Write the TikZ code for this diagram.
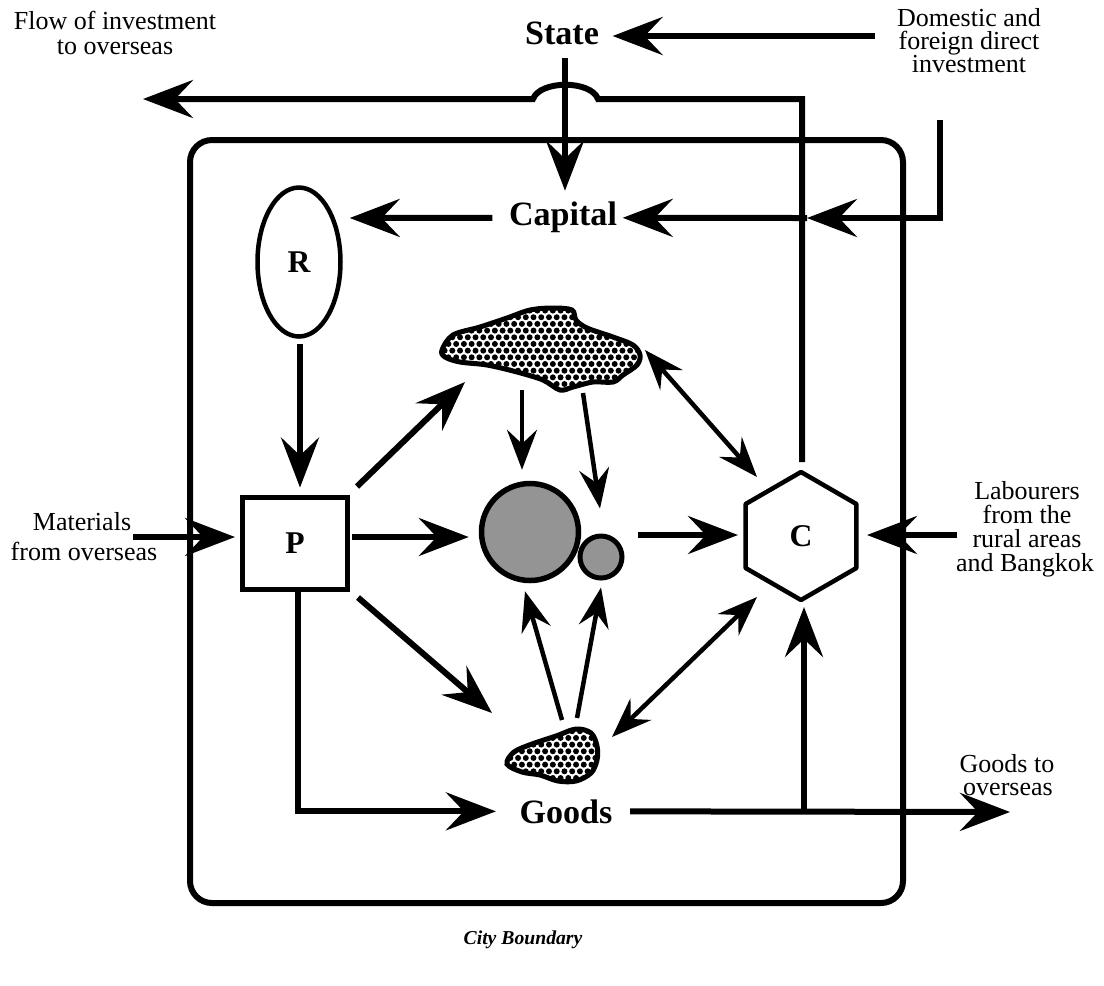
\documentclass[tikz,border=0pt]{standalone}
\usepackage{fontspec}
\setmainfont{Liberation Serif}
\usetikzlibrary{arrows.meta,shapes.geometric,patterns.meta,calc}

% dense black stipple used for the two irregular patches
\tikzdeclarepattern{
  name=stipple,
  type=uncolored,
  bounding box={(-0.9pt,-0.9pt) and (2pt,2.8pt)},
  tile size={(2.2pt,3.8pt)},
  code={
    \fill (0pt,0pt) circle (0.85pt);
    \fill (1.1pt,1.9pt) circle (0.85pt);
  }
}

\begin{document}
\begin{tikzpicture}[x=0.1mm,y=-0.1mm,
  bigarr/.style={line width=0.6mm,-{Stealth[length=5mm,width=3.8mm,inset=1.8mm]}},
  thinarr/.style={line width=0.45mm,-{Stealth[length=4mm,width=3mm,inset=1.4mm]}},
  twoway/.style={line width=0.45mm,{Stealth[length=4mm,width=3mm,inset=1.4mm]}-{Stealth[length=4mm,width=3mm,inset=1.4mm]}},
  lbl/.style={font=\fontsize{7.4}{8}\selectfont,anchor=base,inner sep=0pt},
  head/.style={font=\fontsize{9.7}{11}\selectfont\bfseries,anchor=base,inner sep=0pt},
  letter/.style={font=\fontsize{9}{10}\selectfont\bfseries},
  citylbl/.style={font=\fontsize{5.6}{7}\selectfont\bfseries\itshape,anchor=base,inner sep=0pt},
  patch/.style={line width=0.5mm,pattern=stipple,pattern color=black},
  disc/.style={circle,draw,fill=black!42,inner sep=0pt}
]
\useasboundingbox (0,0) rectangle (1104,985);

% city boundary
\draw[line width=0.6mm,rounded corners=2.2mm] (190,140) rectangle (903,903);
\node[citylbl] (city) at (523,944) {City Boundary};

% outside labels
\node[lbl] (flowA) at (115,29) {Flow of investment};
\node[lbl] (flowB) at (115,54) {to overseas};
\node[lbl] (domA) at (969,26) {Domestic and};
\node[lbl] (domB) at (969,49) {foreign direct};
\node[lbl] (domC) at (969,72) {investment};
\node[lbl] (matA) at (82,530) {Materials};
\node[lbl] (matB) at (84,560) {from overseas};
\node[lbl] (labA) at (1027,499) {Labourers};
\node[lbl] (labB) at (1027,523) {from the};
\node[lbl] (labC) at (1027,547) {rural areas};
\node[lbl] (labD) at (1025,571) {and Bangkok};
\node[lbl] (gtoA) at (1007,772) {Goods to};
\node[lbl] (gtoB) at (1008,795) {overseas};

% main labels
\node[head] (state) at (562,44) {State};
\node[head] (capital) at (563,225) {Capital};
\node[head] (goods) at (566,823) {Goods};

% actors
\node[draw,ellipse,line width=0.45mm,minimum width=8.3mm,minimum height=14.9mm,inner sep=0pt,letter] (R) at (299,262) {R};
\node[draw,rectangle,line width=0.5mm,minimum width=10.5mm,minimum height=9.2mm,inner sep=0pt,letter] (P) at (295,543) {P};
\node[circle,minimum size=11mm,inner sep=0pt,letter] (C) at (801,536) {C};
\draw[line width=0.45mm,line join=round] ($(C)+(0,-64)$) -- ++(55.4,32) -- ++(0,64) -- ++(-55.4,32) -- ++(-55.4,-32) -- ++(0,-64) -- cycle;

% production units
\node[disc,line width=0.55mm,minimum size=9.7mm] (bigc) at (530,532) {};
\node[disc,line width=0.5mm,minimum size=4.2mm] (smallc) at (601,557) {};

% upper and lower patches
\draw[patch] plot[smooth cycle,tension=0.55] coordinates {
  (442,350) (453,335) (480,327) (507,318) (530,310) (553,308) (572,310)
  (576,320) (587,328) (613,337) (633,345) (640,355) (637,365) (623,375)
  (613,382) (593,382) (573,387) (560,390) (543,380) (517,372) (487,365)
  (460,362) (445,357)};
\draw[patch] plot[smooth cycle,tension=0.55] coordinates {
  (507,764) (514,752) (532,744) (556,736) (576,729) (591,733) (597,746)
  (597,760) (591,773) (576,781) (558,781) (540,775) (522,772)};

% free ends and bends
\coordinate (domOut) at (875,36);
\coordinate (domDrop) at (940,120);
\coordinate (joinC) at (807,218);
\coordinate (topC) at (802,99);
\coordinate (hopR) at (598,99);
\coordinate (hopL) at (533,99);
\coordinate (flowEnd) at (143,99);
\coordinate (matStart) at (133,537);
\coordinate (labStart) at (957,535);
\coordinate (goodsOut) at (1010,812);
\coordinate (upFoot) at (804,812);
\coordinate (upA) at (522,390);
\coordinate (upB) at (583,393);
\coordinate (loA) at (562,720);
\coordinate (loB) at (577,718);
\coordinate (upSide) at (645,350);
\coordinate (loSide) at (612,737);
\coordinate (upTip) at (465,382);
\coordinate (loTip) at (492,713);

% investment flows
\draw[bigarr] (domOut) -- (state.east |- domOut) [shorten >=1.3mm];
\draw[bigarr] ($(state.south)+(3,13)$) -- ($(capital.north)+(2,-10)$);
\draw[bigarr] ($(C)+(1,-74)$) -- (topC) -- (hopR) .. controls (591,80) and (540,80) .. (hopL) -- (flowEnd);
\draw[bigarr] (domDrop) |- (joinC);
\draw[bigarr] (joinC) -- ($(capital.east)+(5,1)$);
\draw[bigarr] ($(capital.west)+(-16,1)$) -- ($(R.east |- joinC)+(7,0)$);

% production flows
\draw[bigarr] ($(R.south)+(1,5)$) -- ($(P.north)+(5,-7)$);
\draw[bigarr] (matStart) -- ($(P.west)+(-5,-6)$);
\draw[bigarr] ($(P.north east)+(7,-8)$) -- (upTip);
\draw[bigarr] ($(P.east)+(2,-6)$) -- ($(bigc.west)+(-10,5)$);
\draw[bigarr] ($(P.south east)+(8,6)$) -- (loTip);
\draw[bigarr] ($(P.south)+(3,0)$) |- ($(goods.west)+(-23,0)$);
\draw[bigarr] ($(goods.east)+(17,0)$) -- (goodsOut);
\draw[bigarr] (upFoot) -- ($(C)+(3,71)$);
\draw[bigarr] (labStart) -- ($(C)+(66,-1)$);
\draw[bigarr] ($(bigc.east)+(57,3)$) -- ($(C)+(-63,-1)$);

% links among the inner elements
\draw[thinarr] (upA) -- ($(bigc.north)+(-8,-11)$);
\draw[thinarr] (upB) -- ($(smallc.north)+(-1,-25)$);
\draw[thinarr] (loA) -- ($(bigc.south)+(-5,8)$);
\draw[thinarr] (loB) -- ($(smallc.south)+(0,7)$);
\draw[twoway] (upSide) -- ($(C)+(-44,-59)$);
\draw[twoway] (loSide) -- ($(C)+(-44,61)$);
\end{tikzpicture}
\end{document}
